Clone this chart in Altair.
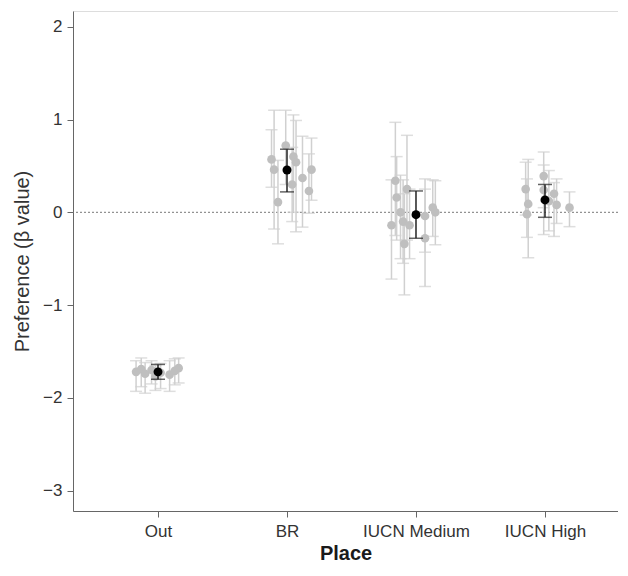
import altair as alt
import pandas as pd

places = ["Out", "BR", "IUCN Medium", "IUCN High"]

# individual estimates: group index, jitter offset (category units), value, lower, upper
g_group = [1]*9 + [2]*10 + [3]*12 + [4]*9
g_jit = [-0.17, -0.13, -0.10, -0.05, 0.02, 0.09, 0.13, 0.16, -0.02,
         -0.12, -0.10, -0.07, -0.01, 0.05, 0.07, 0.04, 0.12, 0.19, 0.17,
         -0.19, -0.16, -0.15, -0.12, -0.10, -0.09, -0.07, -0.05, 0.07, 0.07, 0.13, 0.15,
         -0.15, -0.13, -0.14, -0.01, -0.01, 0.07, 0.09, 0.03, 0.19]
g_val = [-1.72, -1.69, -1.74, -1.70, -1.73, -1.75, -1.71, -1.68, -1.77,
         0.57, 0.46, 0.11, 0.72, 0.60, 0.54, 0.30, 0.37, 0.46, 0.23,
         -0.14, 0.34, 0.16, 0.00, -0.10, -0.34, 0.25, -0.14, -0.04, -0.28, 0.05, 0.00,
         0.25, 0.09, -0.02, 0.39, 0.24, 0.20, 0.08, 0.12, 0.05]
g_lo = [-1.93, -1.88, -1.95, -1.85, -1.90, -1.93, -1.86, -1.84, -1.92,
        0.27, -0.18, -0.34, 0.30, 0.00, -0.21, -0.10, -0.16, 0.13, -0.01,
        -0.72, -0.25, -0.30, -0.50, -0.55, -0.89, -0.30, -0.50, -0.43, -0.80, -0.26, -0.35,
        -0.03, -0.49, -0.27, 0.05, -0.24, -0.26, -0.12, -0.20, -0.155]
g_hi = [-1.60, -1.57, -1.62, -1.60, -1.63, -1.60, -1.58, -1.57, -1.65,
        0.89, 1.10, 0.56, 1.10, 1.05, 0.99, 0.70, 0.82, 0.80, 0.63,
        0.35, 0.97, 0.60, 0.40, 0.35, 0.20, 0.83, 0.25, 0.36, 0.25, 0.35, 0.34,
        0.54, 0.57, 0.36, 0.65, 0.51, 0.32, 0.36, 0.45, 0.22]

# overall estimates (black)
m_val = [-1.72, 0.456, -0.026, 0.133]
m_lo = [-1.80, 0.22, -0.28, -0.054]
m_hi = [-1.64, 0.68, 0.23, 0.30]

gdf = pd.DataFrame({"x": [g + j for g, j in zip(g_group, g_jit)],
                    "v": g_val, "lo": g_lo, "hi": g_hi})
mdf = pd.DataFrame({"x": [1, 2, 3, 4], "v": m_val, "lo": m_lo, "hi": m_hi})

xscale = alt.Scale(domain=[0.341, 4.566], nice=False, zero=False)
yscale = alt.Scale(domain=[-3.22, 2.17], nice=False, zero=False)

FONT = "Liberation Sans"
xaxis = alt.Axis(values=[1, 2, 3, 4],
                 labelExpr="['', 'Out', 'BR', 'IUCN Medium', 'IUCN High'][datum.value]",
                 title="Place", grid=False, tickSize=6, labelPadding=6,
                 labelFontSize=17, labelColor="#333333", titleFontSize=20,
                 titleFontWeight="bold", titleColor="#1a1a1a", titlePadding=4,
                 domainColor="#666666", tickColor="#666666", labelFont=FONT,
                 titleFont=FONT)
yaxis = alt.Axis(values=[-3, -2, -1, 0, 1, 2], title="Preference (β value)", grid=False,
                 tickSize=6, labelPadding=5, labelFontSize=17, labelColor="#333333",
                 titleFontSize=20, titleFontWeight="normal", titleColor="#333333",
                 titlePadding=10, domainColor="#666666", tickColor="#666666",
                 labelFont=FONT, titleFont=FONT)

X = alt.X("x:Q", scale=xscale, axis=xaxis)
base_g = alt.Chart(gdf)
base_m = alt.Chart(mdf)

zero = alt.Chart(pd.DataFrame({"y": [0]})).mark_rule(
    color="#777777", strokeDash=[2, 2], strokeWidth=1).encode(
    y=alt.Y("y:Q", scale=yscale, axis=yaxis))

GREYBAR = "#d0d0d0"
g_rule = base_g.mark_rule(color=GREYBAR, strokeWidth=1.5).encode(
    x=X, y=alt.Y("lo:Q", scale=yscale, axis=yaxis), y2="hi:Q")
g_cap_lo = base_g.mark_tick(color=GREYBAR, orient="horizontal", size=12, thickness=1.5).encode(
    x=X, y=alt.Y("lo:Q", scale=yscale, axis=yaxis))
g_cap_hi = base_g.mark_tick(color=GREYBAR, orient="horizontal", size=12, thickness=1.5).encode(
    x=X, y=alt.Y("hi:Q", scale=yscale, axis=yaxis))
g_pts = base_g.mark_circle(color="#bfbfbf", opacity=1, size=75).encode(
    x=X, y=alt.Y("v:Q", scale=yscale, axis=yaxis))

m_rule = base_m.mark_rule(color="#222222", strokeWidth=1.5).encode(
    x=X, y=alt.Y("lo:Q", scale=yscale, axis=yaxis), y2="hi:Q")
m_cap_lo = base_m.mark_tick(color="#222222", orient="horizontal", size=14, thickness=1.5).encode(
    x=X, y=alt.Y("lo:Q", scale=yscale, axis=yaxis))
m_cap_hi = base_m.mark_tick(color="#222222", orient="horizontal", size=14, thickness=1.5).encode(
    x=X, y=alt.Y("hi:Q", scale=yscale, axis=yaxis))
m_pts = base_m.mark_circle(color="#000000", opacity=1, size=80).encode(
    x=X, y=alt.Y("v:Q", scale=yscale, axis=yaxis))

chart = alt.layer(zero, g_rule, g_cap_lo, g_cap_hi, g_pts,
                  m_rule, m_cap_lo, m_cap_hi, m_pts).properties(
    width=545, height=500,
    autosize=alt.AutoSizeParams(type="none"),
    padding={"left": 65, "top": 3, "right": 0, "bottom": 57},
).configure_view(stroke=None).configure(background="white")

chart.save("out.html", embed_options={"renderer": "svg", "actions": False})
